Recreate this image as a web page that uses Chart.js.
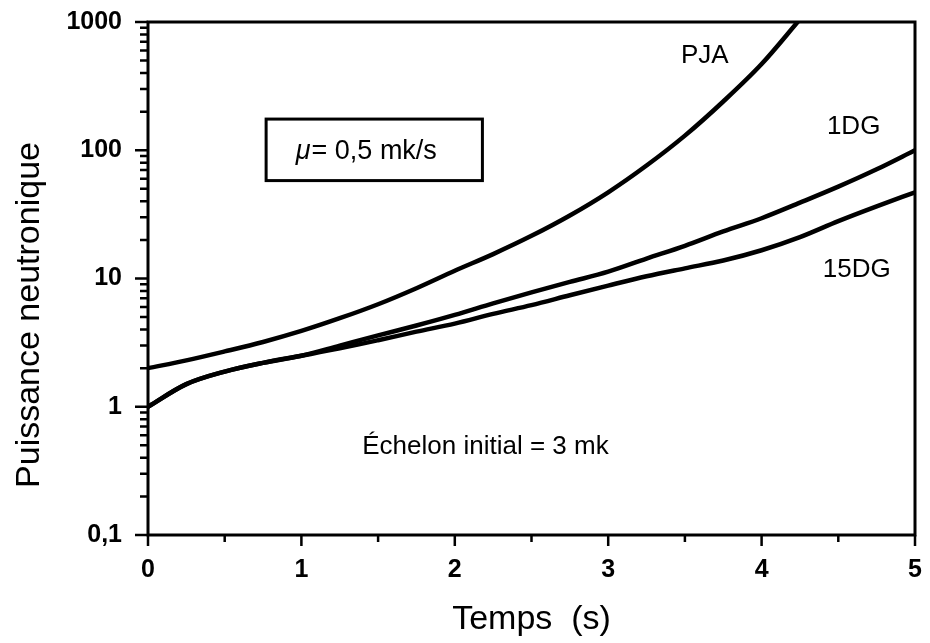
<!DOCTYPE html>
<html>
<head>
<meta charset="utf-8">
<script src="https://cdn.jsdelivr.net/npm/chart.js@4.4.1/dist/chart.umd.min.js"></script>
<style>
  html, body { margin: 0; padding: 0; background: #fff; }
  #wrap { width: 930px; height: 643px; }
</style>
</head>
<body>
<div id="wrap"><canvas id="c" width="930" height="643"></canvas></div>
<script>
// temps (s)
const temps    = [0, 0.25, 0.5, 0.75, 1, 1.25, 1.5, 1.75, 2, 2.25, 2.5, 2.75, 3, 3.25, 3.5, 3.75, 4, 4.25, 4.5, 4.75, 5];
const tempsPja = [0, 0.25, 0.5, 0.75, 1, 1.25, 1.5, 1.75, 2, 2.25, 2.5, 2.75, 3, 3.25, 3.5, 3.75, 4, 4.25];

// puissance neutronique
const pja  = [2.0, 2.3, 2.7, 3.2, 3.9, 4.9, 6.3, 8.4, 11.5, 15.5, 21.5, 31, 47, 76, 130, 240, 470, 1050];
const dg1  = [1, 1.5, 1.88, 2.2, 2.5, 3.0, 3.6, 4.3, 5.2, 6.4, 7.8, 9.4, 11.3, 14.3, 18, 23.3, 29.5, 39, 52, 71, 100];
const dg15 = [1, 1.5, 1.88, 2.2, 2.5, 2.85, 3.3, 3.85, 4.45, 5.3, 6.2, 7.4, 8.8, 10.4, 12, 13.8, 16.6, 21, 28, 36.5, 47];

const yTicks = [0.1, 1, 10, 100, 1000];
const xMajor = [0, 1, 2, 3, 4, 5];
const xMinor = [0.5, 1.5, 2.5, 3.5, 4.5];

const FONT = '"Liberation Sans", Arial, Helvetica, sans-serif';

const pts = (xs, ys) => ys.map((y, i) => ({ x: xs[i], y }));

// cadre, graduations et textes
const decor = {
  id: "decor",
  afterDraw(chart) {
    const { ctx, chartArea: a, scales: { x, y } } = chart;
    ctx.save();
    ctx.strokeStyle = "#000";
    ctx.lineWidth = 3;
    ctx.strokeRect(a.left, a.top, a.right - a.left, a.bottom - a.top);

    ctx.lineWidth = 2.5;
    ctx.beginPath();
    for (let d = 0.1; d < 1000; d *= 10) {
      for (let m = 2; m <= 9; m++) {
        const py = y.getPixelForValue(m * d);
        ctx.moveTo(a.left - 8, py); ctx.lineTo(a.left, py);
      }
    }
    yTicks.forEach(v => {
      const py = y.getPixelForValue(v);
      ctx.moveTo(a.left - 13, py); ctx.lineTo(a.left, py);
    });
    xMajor.forEach(v => {
      const px = x.getPixelForValue(v);
      ctx.moveTo(px, a.bottom); ctx.lineTo(px, a.bottom + 11);
    });
    xMinor.forEach(v => {
      const px = x.getPixelForValue(v);
      ctx.moveTo(px, a.bottom); ctx.lineTo(px, a.bottom + 7);
    });
    ctx.stroke();

    ctx.fillStyle = "#000";
    ctx.textAlign = "center";
    ctx.textBaseline = "middle";

    // titre de l'axe y (un peu décalé vers le bas comme sur l'original)
    ctx.save();
    ctx.translate(30, 315);
    ctx.rotate(-Math.PI / 2);
    ctx.font = "34px " + FONT;
    ctx.fillText("Puissance neutronique", 0, 0);
    ctx.restore();

    ctx.font = "26px " + FONT;
    ctx.fillText("PJA", x.getPixelForValue(3.63), y.getPixelForValue(542));
    ctx.fillText("1DG", x.getPixelForValue(4.6), y.getPixelForValue(151));
    ctx.fillText("15DG", x.getPixelForValue(4.62), y.getPixelForValue(11.7));
    ctx.fillText("Échelon initial = 3 mk", x.getPixelForValue(2.2), y.getPixelForValue(0.49));

    // encadré mu
    const bx0 = x.getPixelForValue(0.77), bx1 = x.getPixelForValue(2.18);
    const by0 = y.getPixelForValue(175), by1 = y.getPixelForValue(58);
    ctx.lineWidth = 3;
    ctx.strokeRect(bx0, by0, bx1 - bx0, by1 - by0);
    const cy = y.getPixelForValue(98);
    ctx.textAlign = "left";
    ctx.font = "italic 27px " + FONT;
    const mu = "μ";
    const rest = "= 0,5 mk/s";
    const wMu = ctx.measureText(mu).width;
    ctx.font = "27px " + FONT;
    const wRest = ctx.measureText(rest).width;
    const sx = x.getPixelForValue(1.42) - (wMu + wRest) / 2;
    ctx.font = "italic 27px " + FONT;
    ctx.fillText(mu, sx, cy);
    ctx.font = "27px " + FONT;
    ctx.fillText(rest, sx + wMu + 1, cy);
    ctx.restore();
  }
};

const line = (label, data) => ({
  label, data,
  borderColor: "#000", borderWidth: 4.5,
  pointRadius: 0, fill: false,
  cubicInterpolationMode: "monotone"
});

new Chart(document.getElementById("c"), {
  type: "line",
  data: {
    datasets: [
      line("PJA", pts(tempsPja, pja)),
      line("1DG", pts(temps, dg1)),
      line("15DG", pts(temps, dg15))
    ]
  },
  options: {
    responsive: false,
    animation: false,
    devicePixelRatio: 1,
    layout: { padding: { top: 22, right: 15, left: 0, bottom: 0 } },
    plugins: { legend: { display: false }, tooltip: { enabled: false } },
    scales: {
      x: {
        type: "linear", min: 0, max: 5,
        grid: { display: false }, border: { display: false },
        afterBuildTicks: s => { s.ticks = xMajor.map(v => ({ value: v })); },
        ticks: { color: "#000", padding: 12, font: { family: FONT, size: 25, weight: "bold" } },
        title: { display: true, text: "Temps  (s)", color: "#000",
                 font: { family: FONT, size: 34 }, padding: { top: 0, bottom: 3 } },
        afterFit: s => { s.height = 108; s.paddingLeft = 0; s.paddingRight = 0; }
      },
      y: {
        type: "logarithmic", min: 0.1, max: 1000,
        grid: { display: false }, border: { display: false },
        afterBuildTicks: s => { s.ticks = yTicks.map(v => ({ value: v })); },
        ticks: { color: "#000", padding: 18, autoSkip: false,
                 font: { family: FONT, size: 25, weight: "bold" },
                 callback: v => String(v).replace(".", ",") },
        title: { display: false },
        afterFit: s => { s.width = 148; s.paddingTop = 0; s.paddingBottom = 0; }
      }
    }
  },
  plugins: [decor]
});
</script>
</body>
</html>
